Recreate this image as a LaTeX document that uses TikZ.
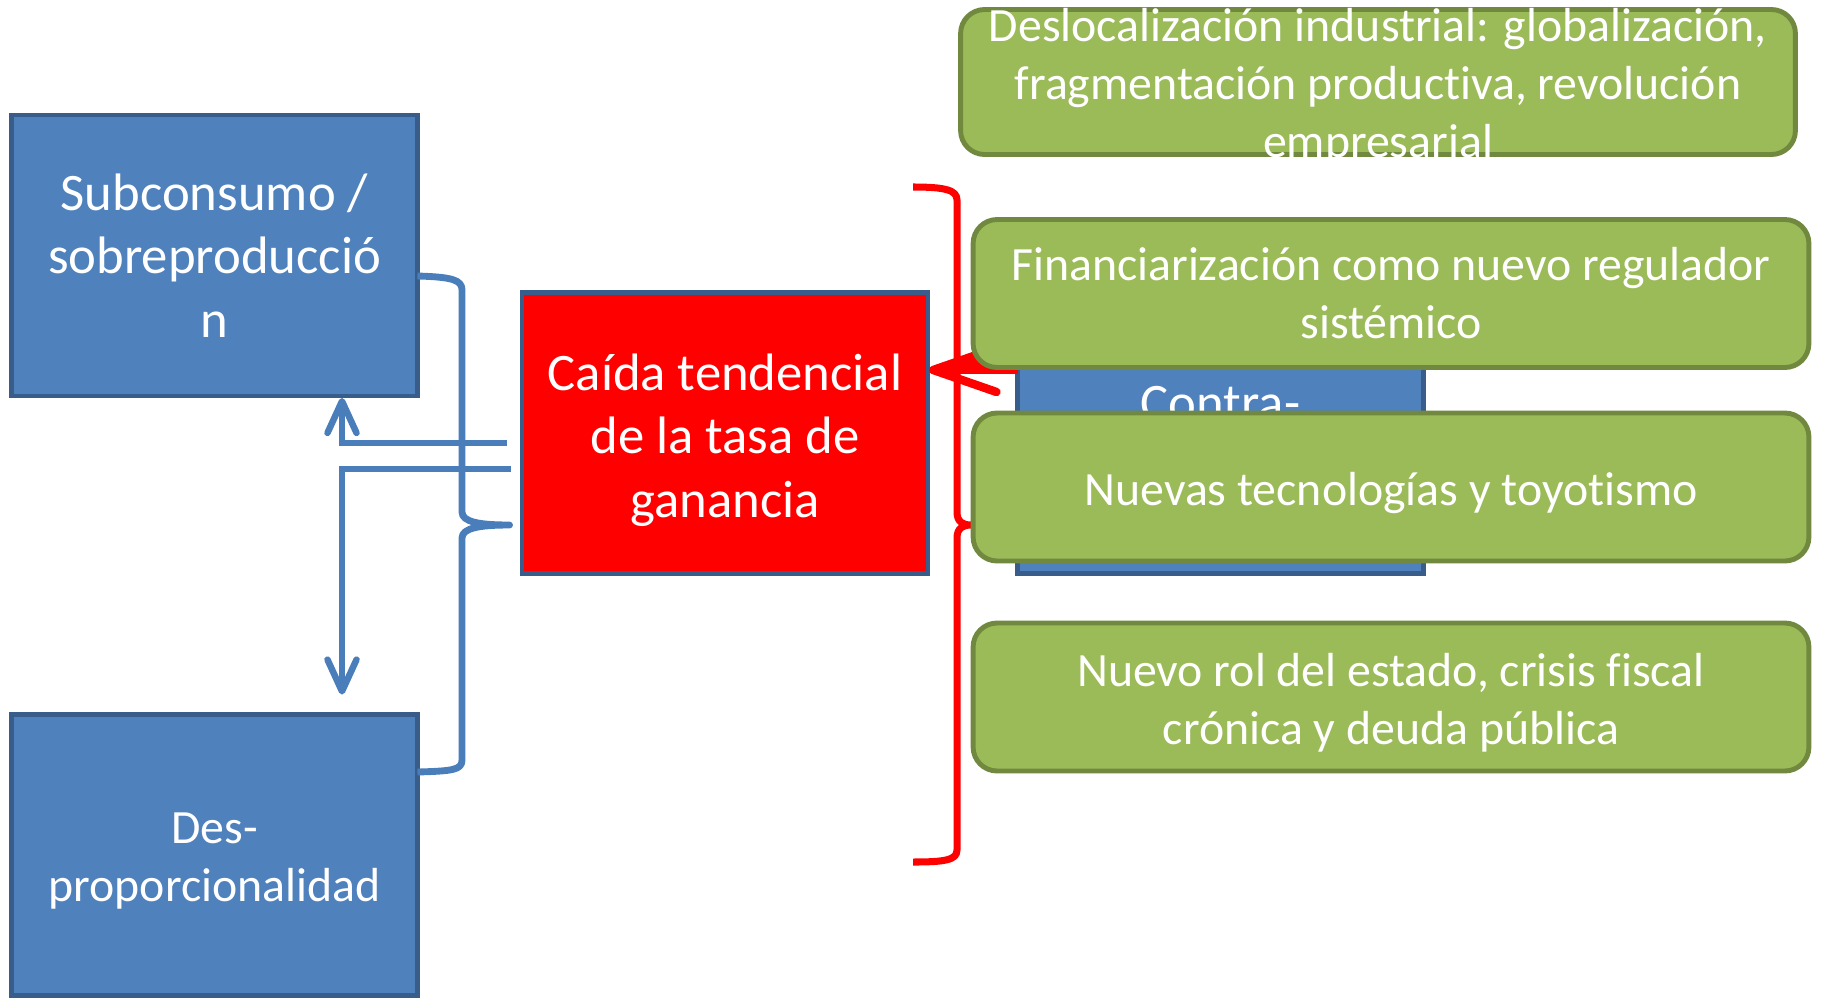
\documentclass[tikz,border=0pt]{standalone}
\usepackage{fontspec}
\setmainfont{Carlito}[Ligatures=NoCommon]
\usetikzlibrary{arrows.meta,calc}
\definecolor{bfill}{HTML}{4F81BD}
\definecolor{bline}{HTML}{385D8A}
\definecolor{gfill}{HTML}{9BBB59}
\definecolor{gline}{HTML}{71893F}
\definecolor{conn}{HTML}{4A7EBB}
\begin{document}
\begin{tikzpicture}[x=0.02cm,y=-0.02cm,
  bluebox/.style={draw=bline, fill=bfill, line width=2.6pt, minimum width=8.12cm, minimum height=5.62cm,
    inner sep=0pt, outer sep=0pt, align=center, text=white, font=\fontsize{30}{36.2}\selectfont},
  redbox/.style={bluebox, fill=red},
  greenbox/.style={draw=gline, fill=gfill, line width=2.8pt, rounded corners=0.48cm, minimum width=16.72cm,
    minimum height=2.96cm, inner sep=0pt, outer sep=0pt},
  rtext/.style={text=white, align=center, inner sep=0pt, font=\fontsize{30}{36.2}\selectfont},
  gtext/.style={rtext, font=\fontsize{27.2}{33}\selectfont},
  connline/.style={draw=conn, line width=3.7pt},
  connarrow/.style={connline, -{Straight Barb[length=18pt,width=16.5pt,round]}},
  bracel/.style={draw=conn, line width=3.9pt, line join=round},
  redbrace/.style={draw=red, line width=4pt, line join=round},
  redarrow/.style={draw=red, line width=4.8pt, -{Straight Barb[length=36pt,width=25pt,round]}}
]
\useasboundingbox (0,0) rectangle (1821,998);

\node[bluebox] (sub) at (214.5,255.5) {Subconsumo /\\sobreproducció\\n};
\node[bluebox, label={[gtext, yshift=-3.3pt]center:{Des-\\proporcionalidad}}] (des) at (214.5,855) {};
\node[redbox, label={[rtext, yshift=-4pt]center:{Caída tendencial\\de la tasa de\\ganancia}}] (red) at (725,433) {};
\node[bluebox, label={[rtext, yshift=16.7pt]center:Contra-}] (contra) at (1220.5,433) {};

% blue connectors
\coordinate (upA) at ($(red.west)+(-15.5,10)$);
\coordinate (dnA) at ($(red.west)+(-11.5,36)$);
\coordinate (bcusp) at ($(red.west)+(-12.5,92)$);
\draw[connarrow] (upA) -| ($(sub.south)+(127.5,2)$);
\draw[connarrow] (dnA) -| ($(des.north)+(127.5,-20)$);
\draw[bracel] ($(sub.east)+(0,20.5)$) .. controls +(35,1) and +(0,-10) .. (462,290)
  -- (462,512) .. controls +(0,10) and +(-30,0) .. (bcusp)
  .. controls +(-30,0) and +(0,-10) .. (462,538)
  -- (462,760) .. controls +(0,10) and +(35,-1) .. ($(des.east)+(0,-83)$);

% red brace
\draw[redbrace] (913,187) .. controls +(32,0) and +(0,-10) .. (957,200)
  -- (957,512) .. controls +(0,10) and +(-8,0) .. (971,525)
  .. controls +(-8,0) and +(0,-10) .. (957,538)
  -- (957,850) .. controls +(0,10) and +(32,0) .. (913,862);

% red arrow
\coordinate (rtip) at ($(red.east)+(1,-63)$);
\fill[red] (rtip) -- ++(66,-27) -- ++(0,27) -- cycle;
\draw[redarrow] ($(contra.west)+(0,-63)$) -- (rtip);

% green boxes
\node[greenbox, minimum width=16.7cm, minimum height=2.9cm,
  label={[gtext, yshift=-2.6pt]center:{Deslocalización industrial: globalización,\\fragmentación productiva, revolución\\empresarial}}] (g1) at (1378,82) {};
\node[greenbox, label={[gtext]center:{Financiarización como nuevo regulador\\sistémico}}] (g2) at (1391,293.5) {};
\node[greenbox, label={[gtext, yshift=-3.3pt]center:{Nuevas tecnologías y toyotismo}}] (g3) at (1391,487) {};
\node[greenbox, label={[gtext, yshift=-3.3pt]center:{Nuevo rol del estado, crisis fiscal\\crónica y deuda pública}}] (g4) at (1391,697) {};
\end{tikzpicture}
\end{document}
